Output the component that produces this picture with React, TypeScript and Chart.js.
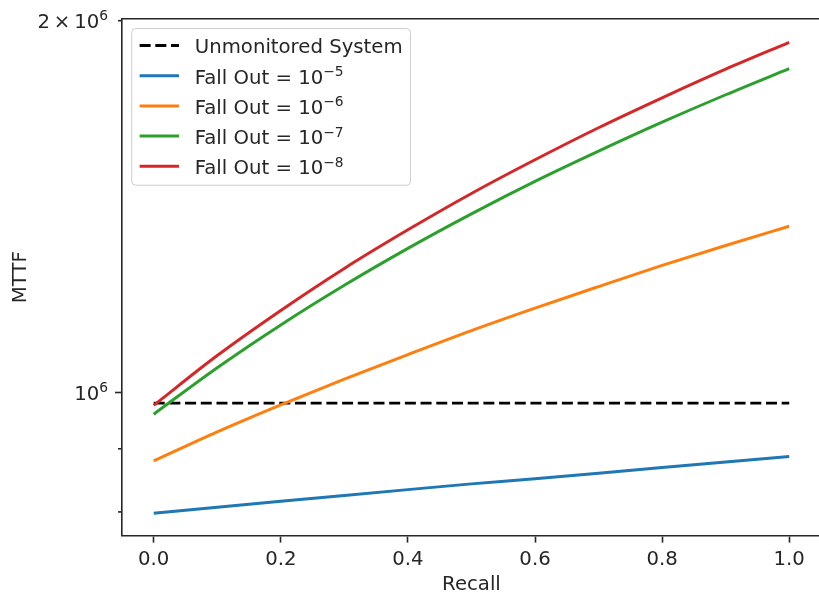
import React, { useEffect, useRef } from 'react';
import { Chart, registerables } from 'chart.js';

Chart.register(...registerables);

// ---- data ----
const recall = [0.0, 0.1, 0.2, 0.3, 0.4, 0.5, 0.6, 0.7, 0.8, 0.9, 1.0];
const unmonitored = [980000, 980000, 980000, 980000, 980000, 980000, 980000, 980000, 980000, 980000, 980000];
const fallOut5 = [798000, 807000, 816000, 825000, 834000, 843000, 851000, 860000, 869000, 878000, 887000];
const fallOut6 = [880000, 929000, 977000, 1025000, 1073000, 1122000, 1170000, 1218000, 1267000, 1315000, 1363000];
const fallOut7 = [960000, 1047000, 1134000, 1221000, 1308000, 1395000, 1482000, 1568000, 1655000, 1742000, 1829000];
const fallOut8 = [976000, 1071000, 1165000, 1260000, 1354000, 1449000, 1543000, 1638000, 1732000, 1827000, 1921000];

// text before '^' is normal, text after '^' is a superscript
const seriesLabels = [
  'Unmonitored System',
  'Fall Out = 10^\u22125',
  'Fall Out = 10^\u22126',
  'Fall Out = 10^\u22127',
  'Fall Out = 10^\u22128',
];
const seriesValues = [unmonitored, fallOut5, fallOut6, fallOut7, fallOut8];
const seriesColors = ['#000000', '#1f77b4', '#ff7f0e', '#2ca02c', '#d62728'];
const seriesDashed = [true, false, false, false, false];

const xTickValues = [0.0, 0.2, 0.4, 0.6, 0.8, 1.0];
const yTickValues = [800000, 900000, 1000000, 2000000];
const yTickLabels = ['', '', '10^6', '2\u2009\u00D7\u200910^6'];
const yTickMajor = [false, false, true, false];

const xTitle = 'Recall';
const yTitle = 'MTTF';

// ---- styling ----
const FONT = 'DejaVu Sans';
const FS = 19.7;
const SUP = 0.7 * FS;
const SUP_RAISE = 0.39 * FS;
const INK = '#262626';
const LW = 2.96;
const SPINE = 1.6;
const MAJOR_LEN = 6.9;
const MINOR_LEN = 3.9;
const DASH = [11, 4.7];

function splitSup(t: string) {
  const k = t.indexOf('^');
  return k < 0 ? [t, ''] : [t.slice(0, k), t.slice(k + 1)];
}
function measureRich(ctx: CanvasRenderingContext2D, t: string) {
  const [b, s] = splitSup(t);
  ctx.font = `${FS}px "${FONT}"`;
  let w = ctx.measureText(b).width;
  if (s) {
    ctx.font = `${SUP}px "${FONT}"`;
    w += ctx.measureText(s).width;
  }
  return w;
}
function drawRich(ctx: CanvasRenderingContext2D, t: string, x: number, baseline: number) {
  const [b, s] = splitSup(t);
  ctx.textAlign = 'left';
  ctx.textBaseline = 'alphabetic';
  ctx.font = `${FS}px "${FONT}"`;
  ctx.fillText(b, x, baseline);
  if (s) {
    const w = ctx.measureText(b).width;
    ctx.font = `${SUP}px "${FONT}"`;
    ctx.fillText(s, x + w, baseline - SUP_RAISE);
  }
}

const decorPlugin = {
  id: 'decor',
  afterDatasetsDraw(chart: any) {
    const { ctx, chartArea } = chart;
    const yScale = chart.scales.y;
    ctx.save();
    // top and right spines
    ctx.strokeStyle = INK;
    ctx.lineWidth = SPINE;
    ctx.beginPath();
    ctx.moveTo(chartArea.left - SPINE / 2, chartArea.top);
    ctx.lineTo(chartArea.right, chartArea.top);
    ctx.lineTo(chartArea.right, chartArea.bottom);
    ctx.stroke();
    // minor y ticks and y tick labels
    yTickValues.forEach((v, i) => {
      const py = yScale.getPixelForValue(v);
      if (!yTickMajor[i]) {
        ctx.beginPath();
        ctx.moveTo(chartArea.left, py);
        ctx.lineTo(chartArea.left - MINOR_LEN, py);
        ctx.stroke();
      }
      const lab = yTickLabels[i];
      if (lab) {
        const w = measureRich(ctx, lab);
        ctx.fillStyle = INK;
        drawRich(ctx, lab, chartArea.left - MAJOR_LEN - 6.9 - w, py + 7.3);
      }
    });

    // legend
    const pad = 0.4 * FS;
    const handleLen = 2 * FS;
    const textPad = 0.8 * FS;
    const rowH = 20.3;
    const rowGap = 0.5 * FS;
    const maxW = Math.max(...seriesLabels.map((t) => measureRich(ctx, t)));
    const bx = chartArea.left + 0.5 * FS;
    const by = chartArea.top + 0.5 * FS;
    const bw = pad + handleLen + textPad + maxW + pad;
    const bh = 2 * pad + seriesLabels.length * rowH + (seriesLabels.length - 1) * rowGap;
    const r = 4;
    ctx.beginPath();
    ctx.moveTo(bx + r, by);
    ctx.lineTo(bx + bw - r, by);
    ctx.arcTo(bx + bw, by, bx + bw, by + r, r);
    ctx.lineTo(bx + bw, by + bh - r);
    ctx.arcTo(bx + bw, by + bh, bx + bw - r, by + bh, r);
    ctx.lineTo(bx + r, by + bh);
    ctx.arcTo(bx, by + bh, bx, by + bh - r, r);
    ctx.lineTo(bx, by + r);
    ctx.arcTo(bx, by, bx + r, by, r);
    ctx.closePath();
    ctx.fillStyle = 'rgba(255,255,255,0.8)';
    ctx.fill();
    ctx.strokeStyle = '#cccccc';
    ctx.lineWidth = 1;
    ctx.stroke();

    seriesLabels.forEach((label, i) => {
      const cy = by + pad + rowH / 2 + i * (rowH + rowGap) - 1;
      ctx.beginPath();
      ctx.strokeStyle = seriesColors[i];
      ctx.lineWidth = LW;
      ctx.setLineDash(seriesDashed[i] ? DASH : []);
      ctx.moveTo(bx + pad, cy);
      ctx.lineTo(bx + pad + handleLen, cy);
      ctx.stroke();
      ctx.setLineDash([]);
      ctx.fillStyle = INK;
      const hasSup = label.indexOf('^') >= 0;
      drawRich(ctx, label, bx + pad + handleLen + textPad, cy + (hasSup ? 8.2 : 7.0));
    });
    ctx.restore();
  },
};

export default function App() {
  const ref = useRef<HTMLCanvasElement | null>(null);

  useEffect(() => {
    document.body.style.overflow = 'hidden';
    const canvas = ref.current!;
    const n = seriesLabels.length;
    const chart = new Chart(canvas, {
      type: 'line',
      data: {
        datasets: seriesValues.map((vals, i) => ({
          label: seriesLabels[i],
          data: recall.map((x, j) => ({ x, y: vals[j] })),
          borderColor: seriesColors[i],
          backgroundColor: seriesColors[i],
          borderWidth: LW,
          borderDash: seriesDashed[i] ? DASH : [],
          pointRadius: 0,
          cubicInterpolationMode: 'monotone',
          fill: false,
          order: n - i,
        })),
      },
      options: {
        animation: false,
        responsive: false,
        devicePixelRatio: 1,
        layout: { padding: { top: 15.3, left: 0, right: 0, bottom: 0 } },
        plugins: { legend: { display: false }, tooltip: { enabled: false } },
        scales: {
          x: {
            type: 'linear',
            min: -0.05,
            max: 1.05,
            afterBuildTicks: (s: any) => {
              s.ticks = xTickValues.map((v) => ({ value: v }));
            },
            afterFit: (s: any) => {
              s.height = 605 - 535.7;
            },
            ticks: {
              autoSkip: false,
              maxRotation: 0,
              padding: 5,
              color: INK,
              font: { family: FONT, size: FS },
              callback: (v: any) => Number(v).toFixed(1),
            },
            grid: {
              drawOnChartArea: false,
              drawTicks: true,
              tickLength: MAJOR_LEN,
              tickWidth: SPINE,
              tickColor: INK,
            },
            border: { display: true, color: INK, width: SPINE },
            title: {
              display: true,
              text: xTitle,
              color: INK,
              font: { family: FONT, size: FS },
              padding: { top: 0, bottom: 8.6 },
            },
          },
          y: {
            type: 'logarithmic',
            min: 765300,
            max: 2007400,
            afterBuildTicks: (s: any) => {
              s.ticks = yTickValues.map((v) => ({ value: v, major: false }));
            },
            afterFit: (s: any) => {
              s.width = 121.9;
            },
            ticks: {
              autoSkip: false,
              padding: 6.9,
              color: INK,
              font: { family: FONT, size: FS },
              callback: () => '',
            },
            grid: {
              drawOnChartArea: false,
              drawTicks: true,
              tickLength: MAJOR_LEN,
              tickWidth: SPINE,
              tickColor: (c: any) => (yTickMajor[c.index] ? INK : 'rgba(0,0,0,0)'),
            },
            border: { display: true, color: INK, width: SPINE },
            title: {
              display: true,
              text: yTitle,
              color: INK,
              font: { family: FONT, size: FS },
              padding: { top: 8.6, bottom: 0 },
            },
          },
        },
      },
      plugins: [decorPlugin],
    } as any);
    return () => chart.destroy();
  }, []);

  return (
    <div style={{ position: 'fixed', left: 0, top: 0, width: 821, height: 605, background: '#fff' }}>
      <canvas ref={ref} width={821} height={605} style={{ width: 821, height: 605, display: 'block' }} />
    </div>
  );
}
